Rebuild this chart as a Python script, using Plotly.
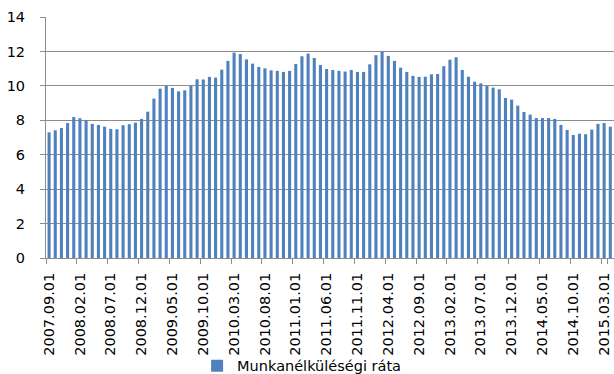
import plotly.graph_objects as go

# Monthly categories 2007.09.01 .. 2015.04.01
dates = []
y, m = 2007, 9
for _ in range(92):
    dates.append(f"{y}.{m:02d}.01")
    m += 1
    if m > 12:
        m = 1
        y += 1

series_name = "Munkanélküléségi ráta"
rate = [
    7.30, 7.42, 7.55, 7.84, 8.19, 8.12, 8.00, 7.79, 7.73, 7.63,
    7.50, 7.48, 7.71, 7.77, 7.86, 8.08, 8.50, 9.26, 9.84, 9.99,
    9.88, 9.68, 9.74, 10.01, 10.38, 10.37, 10.52, 10.48, 10.94, 11.45,
    11.93, 11.85, 11.54, 11.29, 11.10, 11.02, 10.90, 10.87, 10.81, 10.87,
    11.27, 11.72, 11.87, 11.62, 11.21, 10.98, 10.92, 10.87, 10.83, 10.92,
    10.81, 10.81, 11.25, 11.78, 11.99, 11.74, 11.45, 11.06, 10.81, 10.58,
    10.52, 10.53, 10.67, 10.69, 11.14, 11.52, 11.66, 10.92, 10.53, 10.24,
    10.15, 9.99, 9.90, 9.80, 9.30, 9.20, 8.85, 8.48, 8.33, 8.13,
    8.13, 8.13, 8.08, 7.73, 7.44, 7.15, 7.22, 7.19, 7.46, 7.79,
    7.84, 7.63,
]

label_every = 5
tick_labels = dates[::label_every]
y_ticks = [0, 2, 4, 6, 8, 10, 12, 14]

FONT = "DejaVu Sans"
GRID = "#8c8c8c"

fig = go.Figure()
fig.add_trace(go.Bar(
    x=dates, y=rate, name=series_name,
    marker=dict(color="#4F81BD", line=dict(width=0)),
    showlegend=True,
))

fig.update_layout(
    width=614, height=374,
    margin=dict(l=46, r=0, t=17, b=116, pad=0, autoexpand=False),
    paper_bgcolor="white", plot_bgcolor="white",
    bargap=0.5,
    font=dict(family=FONT, size=14.5, color="#000000"),
    showlegend=True,
    legend=dict(
        orientation="h", xref="container", yref="container",
        x=0.321, xanchor="left", y=0.022, yanchor="middle",
        font=dict(family=FONT, size=14.5, color="#000000"),
        itemwidth=30, tracegroupgap=0, bgcolor="rgba(0,0,0,0)",
    ),
    xaxis=dict(
        type="category",
        categoryorder="array", categoryarray=dates,
        range=[-0.5, 91.6],
        tickmode="array", tickvals=tick_labels, ticktext=tick_labels,
        tickson="boundaries",
        ticks="outside", ticklen=5, tickwidth=1, tickcolor=GRID,
        tickangle=-90,
        ticklabelstandoff=8,
        automargin=False,
        showline=True, linecolor=GRID, linewidth=1,
        showgrid=False, zeroline=False,
        tickfont=dict(family=FONT, size=14.5, color="#000000"),
    ),
    yaxis=dict(
        range=[0, 14], tickmode="array", tickvals=y_ticks,
        ticks="outside", ticklen=5, tickwidth=1, tickcolor=GRID,
        automargin=False,
        showline=True, linecolor=GRID, linewidth=1,
        showgrid=True, gridcolor=GRID, gridwidth=1,
        zeroline=False,
        ticklabelstandoff=12,
        tickfont=dict(family=FONT, size=14.5, color="#000000"),
    ),
)

fig.write_html("out.html")
